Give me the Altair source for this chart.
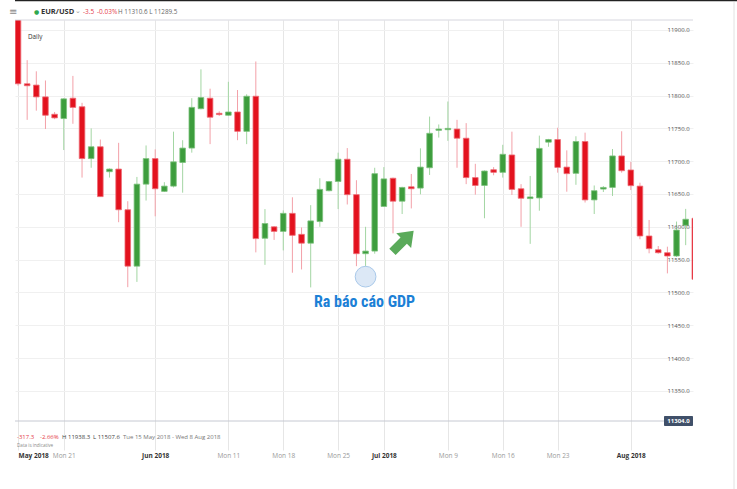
import altair as alt
import pandas as pd

# ---------------- data ----------------
dates = ["2018-05-15","2018-05-16","2018-05-17","2018-05-18","2018-05-20","2018-05-21","2018-05-22","2018-05-23",
         "2018-05-24","2018-05-25","2018-05-27","2018-05-28","2018-05-29","2018-05-30","2018-05-31","2018-06-01",
         "2018-06-03","2018-06-04","2018-06-05","2018-06-06","2018-06-07","2018-06-08","2018-06-10","2018-06-11",
         "2018-06-12","2018-06-13","2018-06-14","2018-06-15","2018-06-17","2018-06-18","2018-06-19","2018-06-20",
         "2018-06-21","2018-06-22","2018-06-24","2018-06-25","2018-06-26","2018-06-27","2018-06-28","2018-06-29",
         "2018-07-01","2018-07-02","2018-07-03","2018-07-04","2018-07-05","2018-07-06","2018-07-08","2018-07-09",
         "2018-07-10","2018-07-11","2018-07-12","2018-07-13","2018-07-15","2018-07-16","2018-07-17","2018-07-18",
         "2018-07-19","2018-07-20","2018-07-22","2018-07-23","2018-07-24","2018-07-25","2018-07-26","2018-07-27",
         "2018-07-29","2018-07-30","2018-07-31","2018-08-01","2018-08-02","2018-08-03","2018-08-05","2018-08-06",
         "2018-08-07","2018-08-08","2018-08-09"]

opens = [11930, 11818, 11816, 11798, 11771.5, 11765, 11796, 11783, 11704, 11722,
         11684, 11688, 11626, 11540, 11665, 11704, 11654, 11662, 11698, 11720,
         11780, 11796, 11773, 11770, 11775, 11745.5, 11799, 11582.5, 11600, 11593,
         11620.5, 11588.5, 11575, 11608, 11655, 11669, 11703, 11649, 11559, 11563,
         11631, 11674, 11639, 11661, 11659, 11690, 11747, 11748, 11749, 11735,
         11675, 11663, 11687, 11683, 11709.5, 11658, 11643, 11644, 11729, 11733,
         11691, 11681.5, 11730, 11641, 11657.5, 11660, 11708, 11686.6, 11662, 11586,
         11565, 11560.5, 11555.5, 11602.3, 11613]
highs = [11938.3, 11854, 11837, 11823, 11775, 11796, 11830, 11789, 11750, 11733,
         11689, 11728, 11639, 11676, 11724, 11718, 11668, 11745, 11732, 11796,
         11840, 11810.5, 11776, 11821, 11808.5, 11802, 11852, 11627, 11601, 11625,
         11645, 11599, 11633, 11674, 11670, 11713, 11720, 11671, 11600, 11690,
         11691, 11675, 11661, 11680.5, 11719.6, 11768, 11756, 11791, 11763, 11758,
         11696, 11686, 11691, 11725, 11745, 11665, 11677.5, 11739, 11734, 11751,
         11716.5, 11738, 11743.5, 11663, 11662, 11718.6, 11745.6, 11699, 11667.2, 11610.4,
         11570.7, 11569.7, 11608, 11627.3, 11614]
lows = [11815, 11763, 11777, 11749, 11764, 11717, 11757, 11675, 11690, 11646,
        11675, 11607, 11508, 11516, 11640, 11616, 11653, 11660, 11652, 11713,
        11779, 11726, 11769, 11769, 11732, 11726, 11561, 11542, 11580, 11564,
        11530, 11535, 11507.6, 11600, 11654, 11627, 11634, 11540, 11527, 11559,
        11631, 11590, 11619.5, 11628, 11649.5, 11679, 11736, 11731, 11690, 11665,
        11649, 11613, 11678.5, 11675, 11648.5, 11600, 11574, 11624.5, 11722, 11682.5,
        11653.5, 11664, 11637, 11619.5, 11653, 11647, 11682.5, 11656, 11581, 11559.6,
        11559, 11529, 11554, 11572, 11520]
closes = [11818, 11815, 11798, 11770, 11766, 11795, 11782, 11704, 11722, 11646,
          11688, 11626, 11540, 11665, 11704, 11658, 11662, 11699, 11720, 11782,
          11797, 11767, 11771, 11775, 11745.5, 11799, 11582, 11605, 11593, 11620.5,
          11587, 11575, 11609, 11657, 11669, 11703, 11649, 11559, 11563, 11681,
          11673, 11639, 11660, 11658, 11691, 11742.5, 11749, 11750, 11735, 11675,
          11663, 11685, 11683, 11710.5, 11657, 11643.5, 11645.5, 11719.5, 11733, 11690.5,
          11681, 11730, 11641, 11655, 11660, 11708, 11685.5, 11662.7, 11586, 11566.7,
          11560.5, 11555.5, 11595, 11611.5, 11520]

tick_dates = ["2018-05-15","2018-05-21","2018-06-01","2018-06-11","2018-06-18","2018-06-25",
              "2018-07-01","2018-07-09","2018-07-16","2018-07-23","2018-08-01"]
tick_labels = ["May 2018","Mon 21","Jun 2018","Mon 11","Mon 18","Mon 25",
               "Jul 2018","Mon 9","Mon 16","Mon 23","Aug 2018"]
price_ticks = [11350, 11400, 11450, 11500, 11550, 11600, 11650, 11700, 11750, 11800, 11850, 11900]
current_price = [11304.0]

annot_text = ["Ra báo cáo GDP"]
annot_date = ["2018-06-21"]
annot_price = [11485]
circle_date = ["2018-06-28"]
circle_price = [11524]
arrow_date = ["2018-07-03"]
arrow_price = [11578]

# ---------------- frames ----------------
idx_of = {d: i for i, d in enumerate(dates)}
df = pd.DataFrame({"date": dates, "open": opens, "high": highs, "low": lows, "close": closes})
df["i"] = range(len(dates))
df["up"] = df["close"] >= df["open"]

tick_idx = [idx_of[d] for d in tick_dates]
month_idx = [idx_of[d] for d, l in zip(tick_dates, tick_labels) if "2018" in l]
label_expr = "[" + ",".join("'%s'" % l for l in tick_labels) + "][indexof([" + \
    ",".join(str(v) for v in tick_idx) + "], datum.value)]"
is_month = "indexof([" + ",".join(str(v) for v in month_idx) + "], datum.value) >= 0"
first_tick = "datum.value == %d" % tick_idx[0]

W, H = 678, 430
x_scale = alt.Scale(domain=[-0.33, 73.8], nice=False, zero=False, padding=0)
y_scale = alt.Scale(domain=[11259.8, 11915.2], nice=False, zero=False, padding=0)

x_axis = alt.Axis(values=tick_idx, labelExpr=label_expr, grid=True, gridColor="#e6e6e6",
                  ticks=False, domain=False, labelPadding=2, labelFontSize=6.5, labelFont="Open Sans",
                  labelColor={"condition": {"test": is_month, "value": "#333333"}, "value": "#9a9a9a"},
                  labelFontWeight={"condition": {"test": is_month, "value": "bold"}, "value": "normal"},
                  labelAlign={"condition": {"test": first_tick, "value": "left"}, "value": "center"},
                  title=None)
x_enc = alt.X("i:Q", scale=x_scale, axis=x_axis)

RED, GREEN = "#e3121e", "#3d9d3d"
RED_W, GREEN_W = "#f3a0a8", "#a3d6a3"

wicks = alt.Chart(df).mark_rule(strokeWidth=1, clip=True).encode(
    x=x_enc,
    y=alt.Y("low:Q", scale=y_scale,
            axis=alt.Axis(orient="right", values=price_ticks, grid=True, gridColor="#f0f0f0",
                          labels=False, ticks=False, domain=False, title=None)),
    y2="high:Q",
    color=alt.condition("datum.up", alt.value(GREEN_W), alt.value(RED_W)),
)
bodies = alt.Chart(df).mark_bar(size=5.6, strokeWidth=0.8, clip=True).encode(
    x=x_enc,
    y=alt.Y("open:Q", scale=y_scale, axis=None),
    y2="close:Q",
    color=alt.condition("datum.up", alt.value(GREEN), alt.value(RED)),
    stroke=alt.condition("datum.up", alt.value("#7cc27c"), alt.value("#ee6b75")),
)

cp = pd.DataFrame({"p": current_price})
cp["lo"] = cp["p"] - 7.6
cp["hi"] = cp["p"] + 7.6
cp["txt"] = cp["p"].map(lambda v: "%.1f" % v)
price_line = alt.Chart(cp).mark_rule(color="#c6c9d2", strokeWidth=1).encode(
    x=alt.value(0), x2=alt.value(W),
    y=alt.Y("p:Q", scale=y_scale,
            axis=alt.Axis(orient="right", values=price_ticks, format=".1f", offset=-26, labelPadding=0,
                          ticks=False, domain=False, grid=False, labelFontSize=6, labelFont="Open Sans",
                          labelColor="#555555", title=None, zindex=2)),
)
price_box = alt.Chart(cp).mark_rect(color="#405069", cornerRadius=1).encode(
    x=alt.value(649), x2=alt.value(W),
    y=alt.Y("lo:Q", scale=y_scale, axis=None), y2="hi:Q",
)
price_txt = alt.Chart(cp).mark_text(color="white", fontSize=6, font="Open Sans", fontWeight="bold").encode(
    x=alt.value(663.5), y=alt.Y("p:Q", scale=y_scale, axis=None), text="txt:N",
)

circ = pd.DataFrame({"i": [idx_of[d] for d in circle_date], "p": circle_price})
circle = alt.Chart(circ).mark_point(shape="circle", size=430, filled=True, fill="#dce8f6",
                                    stroke="#a9c9ea", strokeWidth=1, opacity=1).encode(
    x=x_enc, y=alt.Y("p:Q", scale=y_scale, axis=None))

arr = pd.DataFrame({"i": [idx_of[d] + 0.1 for d in arrow_date], "p": arrow_price})
arrow_path = "M0,-1 L0.7,-0.06 L0.3,-0.06 L0.3,1 L-0.3,1 L-0.3,-0.06 L-0.7,-0.06 Z"
arrow = alt.Chart(arr).mark_point(shape=arrow_path, size=900, filled=True, fill="#5aaa5a",
                                  strokeWidth=0, angle=45, opacity=1).encode(
    x=x_enc, y=alt.Y("p:Q", scale=y_scale, axis=None))

ann = pd.DataFrame({"i": [idx_of[d] + 0.35 for d in annot_date], "p": annot_price, "t": annot_text})
annotation = alt.Chart(ann).mark_text(align="left", baseline="middle", fontSize=16, fontWeight="bold",
                                      font="Liberation Sans Narrow, Roboto Condensed, Roboto",
                                      color="#1c80d6").encode(
    x=x_enc, y=alt.Y("p:Q", scale=y_scale, axis=None), text="t:N")

# ---------------- static texts (header / info) ----------------
def txt(s, x, y, size, color, weight="normal", font="Open Sans"):
    return alt.Chart(pd.DataFrame({"t": [s]})).mark_text(
        align="left", baseline="middle", fontSize=size, color=color, fontWeight=weight, font=font
    ).encode(x=alt.value(x), y=alt.value(y), text="t:N")

texts = [
    txt("≡", -6, -8, 10, "#8a8a8a", font="DejaVu Sans"),
    txt("●", 19, -8, 6, "#2fa84f", font="DejaVu Sans"),
    txt("EUR/USD", 26, -8, 7.5, "#333333", "bold"),
    txt("⌄", 60, -9, 7, "#9a9a9a", font="DejaVu Sans"),
    txt("-3.5", 68, -8, 6.5, "#e5404a"),
    txt("-0.03%", 82, -8, 6.5, "#e5404a"),
    txt("H 11310.6 L 11289.5", 103, -8, 6.3, "#666666"),
    txt("Daily", 13, 17, 6.3, "#333333"),
    txt("-317.3", 2, 417, 6, "#e5404a"),
    txt("-2.66%", 25, 417, 6, "#e5404a"),
    txt("H 11938.3", 47, 417, 6, "#444444"),
    txt("L 11507.6", 78, 417, 6, "#444444"),
    txt("Tue 15 May 2018 - Wed 8 Aug 2018", 108, 417, 6, "#777777"),
    txt("Data is indicative", 2, 426, 4.6, "#8a8a8a"),
]

frame = pd.DataFrame({"k": [0]})
top_dark = alt.Chart(frame).mark_rule(color="#222222", strokeWidth=1.5).encode(
    x=alt.value(0), x2=alt.value(722), y=alt.value(-19.5))
top_line = alt.Chart(frame).mark_rule(color="#d6d6de", strokeWidth=1).encode(
    x=alt.value(0), x2=alt.value(W), y=alt.value(0))
right_line = alt.Chart(frame).mark_rule(color="#e2e2e2", strokeWidth=1).encode(
    x=alt.value(719), y=alt.value(-18), y2=alt.value(469))

chart = alt.layer(
    wicks, bodies, price_line, price_box, price_txt, circle, arrow, annotation,
    top_dark, top_line, right_line, *texts
).resolve_axis(y="independent").properties(
    width=W, height=H,
    autosize=alt.AutoSizeParams(type="none"),
    padding={"left": 15, "top": 20, "right": 44, "bottom": 39},
    background="white",
).configure_view(stroke=None)

chart.save("out.html", embed_options={"renderer": "svg", "actions": False})
